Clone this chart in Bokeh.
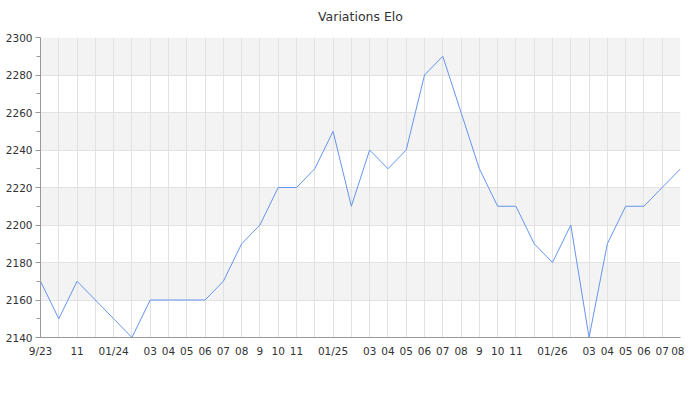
from bokeh.plotting import figure
from bokeh.models import FixedTicker, Range1d, Title
from bokeh.embed import file_html
from bokeh.resources import INLINE

# Monthly Elo values, Sep 2023 .. Aug 2026
months = list(range(36))
elo = [2170, 2150, 2170, 2160, 2150, 2140, 2160, 2160, 2160, 2160, 2170, 2190,
       2200, 2220, 2220, 2230, 2250, 2210, 2240, 2230, 2240, 2280, 2290, 2260,
       2230, 2210, 2210, 2190, 2180, 2200, 2140, 2190, 2210, 2210, 2220, 2230]
x_labels = ["9/23", "", "11", "", "01/24", "", "03", "04", "05", "06", "07", "08",
            "9", "10", "11", "", "01/25", "", "03", "04", "05", "06", "07", "08",
            "9", "10", "11", "", "01/26", "", "03", "04", "05", "06", "07", "08"]
y_ticks = [2140, 2160, 2180, 2200, 2220, 2240, 2260, 2280, 2300]
y_minor = [2150, 2170, 2190, 2210, 2230, 2250, 2270, 2290]
title_text = "Variations Elo"

FONT = "DejaVu Sans"
TXT = "#333333"

p = figure(width=684, height=384, output_backend="svg", toolbar_location=None,
           x_range=Range1d(months[0], months[-1]),
           y_range=Range1d(y_ticks[0], y_ticks[-1]),
           min_border_left=40, min_border_right=4,
           min_border_top=37, min_border_bottom=47)
p.outline_line_color = None
p.background_fill_color = "white"

# small spacer between the frame and the title, then the title itself
p.add_layout(Title(text=" ", text_font_size="1px", standoff=6), "above")
p.add_layout(Title(text=title_text, text_font=FONT, text_font_size="12.5px",
                   text_font_style="normal", text_color=TXT, align="center",
                   offset=-10, standoff=10), "above")

xt = FixedTicker(ticks=months)
p.xaxis.ticker = xt
p.xaxis.major_label_overrides = {i: s for i, s in zip(months, x_labels)}
p.xaxis.major_tick_out = 0
p.xaxis.major_tick_in = 0
p.xaxis.minor_tick_out = 0
p.xaxis.minor_tick_in = 0
p.xaxis.major_label_standoff = 7
p.xgrid.ticker = xt

yt = FixedTicker(ticks=y_ticks, minor_ticks=y_minor)
p.yaxis.ticker = yt
p.yaxis.major_tick_out = 5
p.yaxis.major_tick_in = 0
p.yaxis.minor_tick_out = 4
p.yaxis.minor_tick_in = 0
p.yaxis.major_label_standoff = 3
p.ygrid.ticker = yt

for ax in (p.xaxis, p.yaxis):
    ax.axis_line_color = "#999999"
    ax.major_tick_line_color = "#999999"
    ax.minor_tick_line_color = "#999999"
    ax.major_label_text_font = FONT
    ax.major_label_text_font_size = "10.5px"
    ax.major_label_text_color = TXT

for g in (p.xgrid, p.ygrid):
    g.grid_line_color = "#e2e2e2"
    g.grid_line_width = 1
    g.grid_line_alpha = 1

# bands below the vertical grid lines
p.ygrid.level = "image"
p.ygrid.band_fill_color = "#f3f3f3"
p.ygrid.band_fill_alpha = 1

p.line(months, elo, line_color="#6495ed", line_width=1)

open("out.html", "w").write(file_html(p, INLINE))
